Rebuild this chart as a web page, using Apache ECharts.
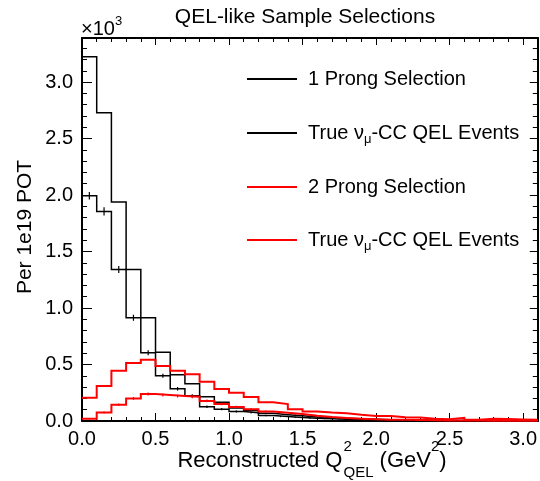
<!DOCTYPE html>
<html>
<head>
<meta charset="utf-8">
<script src="https://cdn.jsdelivr.net/npm/echarts@6/dist/echarts.min.js"></script>
<style>
html, body { margin: 0; padding: 0; background: #fff; }
#main { width: 540px; height: 481px; }
</style>
</head>
<body>
<div id="main"></div>
<script>
// bin edges of Q2 (GeV^2), 0.1 wide
var binEdges = [0.0, 0.1, 0.2, 0.3, 0.4, 0.5, 0.6, 0.7, 0.8, 0.9, 1.0, 1.1, 1.2, 1.3, 1.4, 1.5,
                1.6, 1.7, 1.8, 1.9, 2.0, 2.1, 2.2, 2.3, 2.4, 2.5, 2.6, 2.7, 2.8, 2.9, 3.0, 3.1];

// values in units of 10^3 per 1e19 POT
var oneProng = [3.224, 2.728, 1.938, 1.342, 0.914, 0.608, 0.41, 0.33, 0.215, 0.165, 0.115, 0.093,
                0.068, 0.056, 0.046, 0.036, 0.030, 0.024, 0.019, 0.015, 0.012, 0.010, 0.008, 0.007,
                0.006, 0.005, 0.004, 0.003, 0.003, 0.002, 0.002];
var oneProngTrue = [1.994, 1.855, 1.342, 0.914, 0.605, 0.401, 0.285, 0.223, 0.127, 0.105, 0.085, 0.074,
                    0.048, 0.040, 0.032, 0.025, 0.020, 0.016, 0.013, 0.010, 0.008, 0.006, 0.005, 0.004,
                    0.003, 0.003, 0.002, 0.002, 0.001, 0.001, 0.001];
var oneProngTrueErr = [0.034, 0.036, 0.031, 0.027, 0.022, 0.018, 0.016, 0.014, 0.011, 0.010, 0.009, 0.008,
                       0.007, 0.006, 0.005, 0.005, 0.004, 0.004, 0.003, 0.003, 0.003, 0.002, 0.002, 0.002,
                       0.002, 0.002, 0.001, 0.001, 0.001, 0.001, 0.001];
var twoProng = [0.206, 0.310, 0.444, 0.513, 0.543, 0.487, 0.445, 0.414, 0.348, 0.284, 0.250, 0.212,
                0.165, 0.150, 0.104, 0.085, 0.075, 0.068, 0.055, 0.045, 0.045, 0.033, 0.032, 0.021,
                0.016, 0.028, 0.010, 0.020, 0.018, 0.014, 0.010];
var twoProngTrue = [0.020, 0.075, 0.144, 0.200, 0.239, 0.230, 0.221, 0.215, 0.178, 0.150, 0.125, 0.105,
                    0.085, 0.074, 0.062, 0.047, 0.035, 0.027, 0.020, 0.015, 0.012, 0.010, 0.008, 0.006,
                    0.005, 0.004, 0.004, 0.003, 0.003, 0.002, 0.002];
var twoProngTrueErr = [0.004, 0.008, 0.011, 0.013, 0.014, 0.014, 0.013, 0.013, 0.012, 0.011, 0.010, 0.009,
                       0.008, 0.008, 0.007, 0.006, 0.005, 0.005, 0.004, 0.004, 0.003, 0.003, 0.003, 0.002,
                       0.002, 0.002, 0.002, 0.002, 0.001, 0.001, 0.001];

var xMin = 0, xMax = 3.1, yMin = 0, yMax = 3.39;

var FONT = '"Liberation Sans", Arial, Helvetica, sans-serif';
var NAME_1P = '1 Prong Selection';
var NAME_1T = 'True νμ-CC QEL Events (1 Prong)';
var NAME_2P = '2 Prong Selection';
var NAME_2T = 'True νμ-CC QEL Events (2 Prong)';

var myChart = echarts.init(document.getElementById('main'));

// histogram outline: one point per bin low edge + closing edge
function histData(vals) {
    return binEdges.map(function (x, i) {
        return [x, i < vals.length ? vals[i] : vals[vals.length - 1]];
    });
}

function histSeries(name, vals, color, width) {
    return {
        name: name,
        type: 'line',
        step: 'end',
        data: histData(vals),
        symbol: 'none',
        showSymbol: false,
        clip: true,
        lineStyle: { color: color, width: width, join: 'miter' },
        itemStyle: { color: color },
        z: 3
    };
}

function errSeries(name, vals, errs, color, width) {
    var d = vals.map(function (v, i) {
        return [(binEdges[i] + binEdges[i + 1]) / 2, v, errs[i]];
    });
    return {
        name: name,
        type: 'custom',
        data: d,
        encode: { x: 0, y: 1 },
        clip: true,
        silent: true,
        z: 4,
        renderItem: function (params, api) {
            var p1 = api.coord([api.value(0), api.value(1) + api.value(2)]);
            var p2 = api.coord([api.value(0), api.value(1) - api.value(2)]);
            return {
                type: 'line',
                shape: { x1: p1[0], y1: p1[1], x2: p2[0], y2: p2[1] },
                style: { stroke: color, lineWidth: width }
            };
        }
    };
}

function legendFmt(name) {
    if (name.indexOf('True') === 0) return 'True ν{sub|μ}-CC QEL Events';
    return name;
}

function oneLegend(name, top) {
    return {
        data: [name],
        left: 247,
        top: top,
        padding: 0,
        orient: 'vertical',
        itemWidth: 50,
        itemHeight: 2,
        icon: 'rect',
        selectedMode: false,
        itemStyle: { borderWidth: 0 },
        formatter: legendFmt,
        textStyle: {
            fontSize: 20, fontFamily: FONT, color: '#000', lineHeight: 20,
            padding: [0, 0, 0, 6],
            rich: { sub: { fontSize: 13, lineHeight: 20, verticalAlign: 'top', padding: [10, 0, 0, 0] } }
        }
    };
}

// axes: labelled major, unlabelled minor, mirrored on top / right
function xAxisDef(pos, interval, tickLen, labels, line) {
    return {
        type: 'value', min: xMin, max: xMax, interval: interval, position: pos,
        axisLine: { show: line, onZero: false, lineStyle: { color: '#000', width: 2 } },
        axisTick: { show: true, inside: true, length: tickLen, lineStyle: { color: '#000', width: 1 } },
        axisLabel: {
            show: labels, margin: 8, fontSize: 20, fontFamily: FONT, color: '#000',
            showMaxLabel: false,
            formatter: function (v) { return v.toFixed(1); }
        },
        splitLine: { show: false }
    };
}
function yAxisDef(pos, interval, tickLen, labels, line) {
    return {
        type: 'value', min: yMin, max: yMax, interval: interval, position: pos,
        axisLine: { show: line, onZero: false, lineStyle: { color: '#000', width: 2 } },
        axisTick: { show: true, inside: true, length: tickLen, lineStyle: { color: '#000', width: 1 } },
        axisLabel: {
            show: labels, margin: 9, fontSize: 20, fontFamily: FONT, color: '#000',
            showMaxLabel: false,
            formatter: function (v) { return v.toFixed(1); }
        },
        splitLine: { show: false }
    };
}

// x axis title pieces: Reconstructed Q^2_QEL (GeV^2)
var ctx = document.createElement('canvas').getContext('2d');
function textWidth(str, size) {
    ctx.font = size + 'px ' + FONT;
    return ctx.measureText(str).width;
}
function txt(str, x, y, size, align, rot) {
    return {
        type: 'text', x: x, y: y, rotation: rot || 0, silent: true,
        style: {
            text: str, fontSize: size, fontFamily: FONT, fill: '#000',
            align: align || 'left', verticalAlign: 'middle'
        }
    };
}
function xTitle() {
    var big = 22, small = 15;
    var a = 'Reconstructed Q', b = ' (GeV', c = ')';
    var wa = textWidth(a, big), wb = textWidth(b, big), wc = textWidth(c, big);
    var wsup = textWidth('2', small), wsub = textWidth('QEL', small);
    var total = wa + 1 + Math.max(wsup, wsub) + wb + wsup + wc;
    var x = 312 - total / 2, yMain = 461;
    var out = [];
    out.push(txt(a, x, yMain, big));
    x += wa + 1;
    out.push(txt('2', x, yMain - 14, small));
    out.push(txt('QEL', x, yMain + 12, small));
    x += Math.max(wsup, wsub);
    out.push(txt(b, x, yMain, big));
    x += wb;
    out.push(txt('2', x, yMain - 14, small));
    x += wsup;
    out.push(txt(c, x, yMain, big));
    return out;
}

var graphics = [
    txt('QEL-like Sample Selections', 305, 17, 21, 'center'),
    txt('×10', 81, 29, 20),
    txt('3', 81 + textWidth('×10', 20), 21, 13),
    txt('Per 1e19 POT', 25, 227, 21, 'center', Math.PI / 2)
].concat(xTitle());

var option = {
    animation: false,
    backgroundColor: '#fff',
    grid: { left: 82, right: 0, top: 38, bottom: 60, containLabel: false },
    legend: [
        oneLegend(NAME_1P, 69),
        oneLegend(NAME_1T, 123),
        oneLegend(NAME_2P, 177),
        oneLegend(NAME_2T, 230)
    ],
    xAxis: [
        xAxisDef('bottom', 0.5, 8, true, true),
        xAxisDef('bottom', 0.1, 4, false, false),
        xAxisDef('top', 0.5, 7, false, true),
        xAxisDef('top', 0.1, 4, false, false)
    ],
    yAxis: [
        yAxisDef('left', 0.5, 10, true, true),
        yAxisDef('left', 0.1, 5, false, false),
        yAxisDef('right', 0.5, 8, false, true),
        yAxisDef('right', 0.1, 5, false, false)
    ],
    graphic: graphics,
    series: [
        histSeries(NAME_1P, oneProng, '#000', 1.5),
        histSeries(NAME_1T, oneProngTrue, '#000', 1.5),
        histSeries(NAME_2P, twoProng, '#ff0000', 2),
        histSeries(NAME_2T, twoProngTrue, '#ff0000', 2),
        errSeries(NAME_1T, oneProngTrue, oneProngTrueErr, '#000', 1.2),
        errSeries(NAME_2T, twoProngTrue, twoProngTrueErr, '#ff0000', 1.2)
    ]
};
myChart.setOption(option);
</script>
</body>
</html>
